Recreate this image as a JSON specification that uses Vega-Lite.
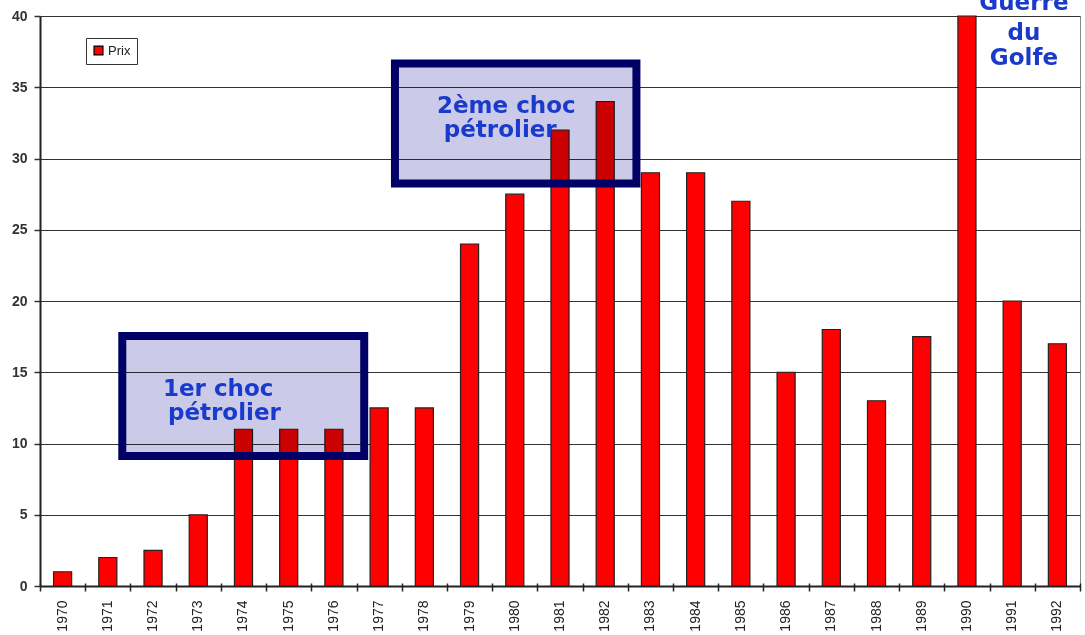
{
  "$schema": "https://vega.github.io/schema/vega-lite/v6.json",
  "width": 1040,
  "height": 570,
  "autosize": {"type": "none"},
  "padding": {"left": 40, "top": 16, "right": 5, "bottom": 49},
  "background": "white",
  "config": {"view": {"stroke": "#8a8a8a", "strokeWidth": 1}},
  "datasets": {
    "prix": [
      {"annee": "1970", "prix": 1},
      {"annee": "1971", "prix": 2},
      {"annee": "1972", "prix": 2.5},
      {"annee": "1973", "prix": 5},
      {"annee": "1974", "prix": 11},
      {"annee": "1975", "prix": 11},
      {"annee": "1976", "prix": 11},
      {"annee": "1977", "prix": 12.5},
      {"annee": "1978", "prix": 12.5},
      {"annee": "1979", "prix": 24},
      {"annee": "1980", "prix": 27.5},
      {"annee": "1981", "prix": 32},
      {"annee": "1982", "prix": 34},
      {"annee": "1983", "prix": 29},
      {"annee": "1984", "prix": 29},
      {"annee": "1985", "prix": 27},
      {"annee": "1986", "prix": 15},
      {"annee": "1987", "prix": 18},
      {"annee": "1988", "prix": 13},
      {"annee": "1989", "prix": 17.5},
      {"annee": "1990", "prix": 40},
      {"annee": "1991", "prix": 20},
      {"annee": "1992", "prix": 17}
    ],
    "boxes": [
      {"x0": 1.82, "x1": 7.17, "y0": 9.12, "y1": 17.54},
      {"x0": 7.85, "x1": 13.19, "y0": 28.25, "y1": 36.67}
    ],
    "labels_box": [
      {"tx": 2.72, "ty": 13.33, "texte": "1er choc"},
      {"tx": 2.83, "ty": 11.65, "texte": "pétrolier"},
      {"tx": 8.78, "ty": 33.19, "texte": "2ème choc"},
      {"tx": 8.93, "ty": 31.51, "texte": "pétrolier"}
    ],
    "labels_golfe": [
      {"tx": 21.76, "ty": 40.42, "texte": "Guerre"},
      {"tx": 21.76, "ty": 38.32, "texte": "du"},
      {"tx": 21.76, "ty": 36.56, "texte": "Golfe"}
    ]
  },
  "layer": [
    {
      "data": {"name": "prix"},
      "mark": {"type": "bar", "stroke": "#222222", "strokeWidth": 1.2},
      "encoding": {
        "x": {
          "field": "annee",
          "type": "ordinal",
          "scale": {"paddingInner": 0.6, "paddingOuter": 0.3},
          "axis": {
            "title": null,
            "orient": "bottom",
            "ticks": false,
            "tickSize": 0,
            "labelAngle": -90,
            "labelAlign": "right",
            "labelBaseline": "middle",
            "labelPadding": 14,
            "labelFont": "Liberation Sans",
            "labelFontSize": 14,
            "labelColor": "#222222",
            "domainColor": "#222222",
            "domainWidth": 2
          }
        },
        "y": {
          "field": "prix",
          "type": "quantitative",
          "scale": {"domain": [0, 40], "nice": false},
          "axis": {
            "title": null,
            "values": [0, 5, 10, 15, 20, 25, 30, 35, 40],
            "grid": true,
            "gridColor": "#333333",
            "gridWidth": 1.2,
            "tickSize": 6,
            "tickColor": "#333333",
            "tickWidth": 1.5,
            "domainColor": "#222222",
            "domainWidth": 2,
            "labelFont": "Liberation Sans",
            "labelFontSize": 14,
            "labelFontWeight": "bold",
            "labelColor": "#333333",
            "labelPadding": 7
          }
        },
        "color": {
          "datum": "Prix",
          "type": "nominal",
          "scale": {"range": ["#ff0000"]},
          "legend": {
            "orient": "none",
            "legendX": 46,
            "legendY": 22,
            "title": null,
            "strokeColor": "#333333",
            "padding": 6,
            "symbolType": "square",
            "symbolSize": 80,
            "symbolStrokeColor": "#000000",
            "symbolStrokeWidth": 1.2,
            "labelFont": "Liberation Sans",
            "labelFontSize": 13,
            "labelColor": "#222222",
            "labelOffset": 3
          }
        }
      }
    },
    {
      "data": {"name": "boxes"},
      "mark": {"type": "rect", "fill": "#cbcbe9", "blend": "multiply"},
      "encoding": {
        "x": {
          "field": "x0",
          "type": "quantitative",
          "scale": {"domain": [0, 23], "nice": false, "zero": false},
          "axis": {
            "title": null,
            "orient": "bottom",
            "values": [0, 1, 2, 3, 4, 5, 6, 7, 8, 9, 10, 11, 12, 13, 14, 15, 16, 17, 18, 19, 20, 21, 22, 23],
            "labels": false,
            "domain": false,
            "grid": false,
            "tickSize": 8,
            "tickColor": "#222222",
            "tickWidth": 1.5,
            "offset": -3
          }
        },
        "x2": {"field": "x1"},
        "y": {"field": "y0", "type": "quantitative", "scale": {"domain": [0, 40], "nice": false}},
        "y2": {"field": "y1"}
      }
    },
    {
      "data": {"name": "boxes"},
      "mark": {"type": "rect", "fill": null, "fillOpacity": 0, "stroke": "#000066", "strokeWidth": 8},
      "encoding": {
        "x": {"field": "x0", "type": "quantitative", "scale": {"domain": [0, 23], "nice": false, "zero": false}, "axis": null},
        "x2": {"field": "x1"},
        "y": {"field": "y0", "type": "quantitative", "scale": {"domain": [0, 40], "nice": false}},
        "y2": {"field": "y1"}
      }
    },
    {
      "data": {"name": "labels_box"},
      "mark": {"type": "text", "align": "left", "baseline": "alphabetic", "font": "DejaVu Sans", "fontSize": 23, "fontWeight": "bold", "color": "#1a3acc"},
      "encoding": {
        "x": {"field": "tx", "type": "quantitative", "scale": {"domain": [0, 23], "nice": false, "zero": false}, "axis": null},
        "y": {"field": "ty", "type": "quantitative", "scale": {"domain": [0, 40], "nice": false}},
        "text": {"field": "texte"}
      }
    },
    {
      "data": {"name": "labels_golfe"},
      "mark": {"type": "text", "align": "center", "baseline": "alphabetic", "font": "DejaVu Sans", "fontSize": 23, "fontWeight": "bold", "color": "#1a3acc"},
      "encoding": {
        "x": {"field": "tx", "type": "quantitative", "scale": {"domain": [0, 23], "nice": false, "zero": false}, "axis": null},
        "y": {"field": "ty", "type": "quantitative", "scale": {"domain": [0, 40], "nice": false}},
        "text": {"field": "texte"}
      }
    }
  ],
  "resolve": {"scale": {"x": "independent"}, "axis": {"x": "independent"}}
}
